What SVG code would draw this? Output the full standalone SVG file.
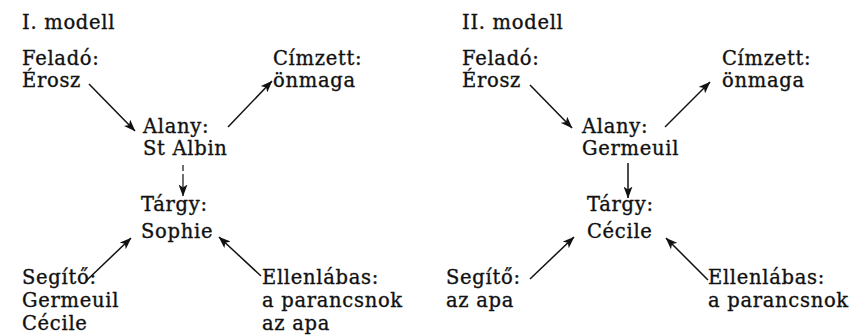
<svg xmlns="http://www.w3.org/2000/svg" width="857" height="336" viewBox="0 0 857 336">
  <defs>
    <style>
      text { font-family: "DejaVu Serif", "Liberation Serif", serif; font-size: 19.5px; letter-spacing: 0.7px; fill: #111; stroke: #111; stroke-width: 0.35px; }
      .edge { stroke: #111; stroke-width: 1.5; fill: none; marker-end: url(#arrow); }
      .thin { stroke-width: 1.2; stroke-dasharray: 6 3 40; }
    </style>
    <marker id="arrow" viewBox="0 0 12 9" refX="11.5" refY="4.5" markerWidth="12" markerHeight="9" markerUnits="userSpaceOnUse" orient="auto">
      <path d="M0,0 L12,4.5 L0,9 L3,4.5 z" fill="#111"/>
    </marker>
  </defs>
  <rect width="857" height="336" fill="#fff"/>

  <!-- Model I -->
  <g id="title1"><text x="22" y="29">I. modell</text></g>
  <g id="felado1"><text x="22" y="65">Feladó:</text><text x="22" y="87">Érosz</text></g>
  <g id="cimzett1"><text x="273" y="65">Címzett:</text><text x="273" y="87">önmaga</text></g>
  <g id="alany1"><text x="143" y="133">Alany:</text><text x="143" y="155">St Albin</text></g>
  <g id="targy1"><text x="141" y="211">Tárgy:</text><text x="141" y="238">Sophie</text></g>
  <g id="segito1"><text x="22" y="284">Segítő:</text><text x="22" y="307">Germeuil</text><text x="22" y="330">Cécile</text></g>
  <g id="ellen1"><text x="262" y="284">Ellenlábas:</text><text x="262" y="307">a parancsnok</text><text x="262" y="330">az apa</text></g>

  <!-- Model II -->
  <g id="title2"><text x="462" y="29">II. modell</text></g>
  <g id="felado2"><text x="462" y="65">Feladó:</text><text x="462" y="87">Érosz</text></g>
  <g id="cimzett2"><text x="722" y="65">Címzett:</text><text x="722" y="87">önmaga</text></g>
  <g id="alany2"><text x="582" y="133">Alany:</text><text x="582" y="155">Germeuil</text></g>
  <g id="targy2"><text x="587" y="211">Tárgy:</text><text x="587" y="238">Cécile</text></g>
  <g id="segito2"><text x="446" y="284">Segítő:</text><text x="446" y="307">az apa</text></g>
  <g id="ellen2"><text x="708" y="284">Ellenlábas:</text><text x="708" y="307">a parancsnok</text></g>

  <g id="connectors">
    <line class="edge" x1="89" y1="84" x2="135" y2="131"/>
    <line class="edge" x1="228" y1="127" x2="272" y2="81"/>
    <line class="edge thin" x1="183" y1="165" x2="183" y2="196"/>
    <line class="edge" x1="86" y1="281" x2="131" y2="238"/>
    <line class="edge" x1="261" y1="276" x2="219" y2="237"/>

    <line class="edge" x1="530" y1="85" x2="572" y2="128"/>
    <line class="edge" x1="665" y1="127" x2="710" y2="82"/>
    <line class="edge" x1="628" y1="163" x2="628" y2="198"/>
    <line class="edge" x1="530" y1="279" x2="574" y2="237"/>
    <line class="edge" x1="708" y1="280" x2="666" y2="238"/>
  </g>
</svg>
